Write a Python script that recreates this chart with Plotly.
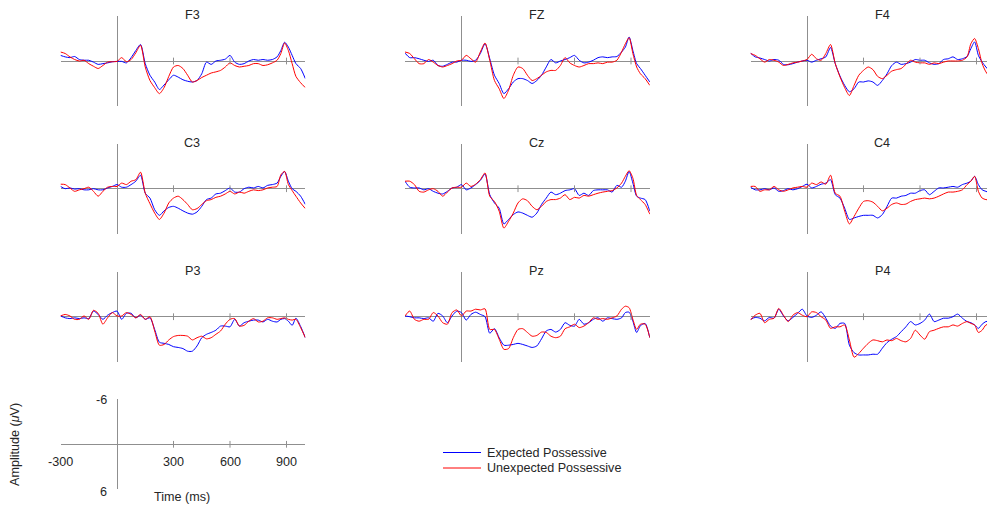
import plotly.graph_objects as go

# ---------------- data (µV, negative plotted up) ----------------
T = [-300, -275, -250, -225, -200, -175, -150, -125, -100, -75, -50, -25,
     0, 25, 50, 75, 100, 125, 150, 175, 200, 225, 250, 275,
     300, 325, 350, 375, 400, 425, 450, 475, 500, 525, 550, 575,
     600, 625, 650, 675, 700, 725, 750, 775, 800, 825, 850,
     870, 890, 910, 930, 950, 975, 1000]

CHANNELS = ["F3", "FZ", "F4", "C3", "Cz", "C4", "P3", "Pz", "P4"]

F3_exp = [-0.75, -0.55, -0.45, -0.6, -0.2, -0.1, -0.1, 0.15, 0.45, 0.35, 0.25, 0.1,
          0.05, 0.05, 0.25, -0.45, -1.4, -2.2, 0.35, 1.9, 2.8, 3.8, 3.2, 2.5,
          1.9, 2.15, 2.5, 2.7, 2.8, 2.6, 1.7, 0.15, 0.45, 0, -0.1, -0.25,
          -0.75, 0.15, 0.45, 0.35, 0, -0.2, -0.1, -0.2, -0.1, -0.2, -0.55,
          -1.4, -2.5, -1.85, -0.75, 0.35, 1.0, 2.35]
F3_unexp = [-1.2, -1.0, -0.55, -0.2, 0, -0.1, 0.35, 0.7, 1.0, 0.6, 0.15, 0.1,
            0.05, -0.45, 0.1, -0.2, -1.1, -2.1, 0.8, 2.6, 3.55, 4.35, 3.55, 2.05,
            0.8, 0.6, 1.0, 1.9, 2.8, 2.6, 2.2, 1.9, 1.6, 1.45, 1.25, 0.8,
            0.25, 0.6, 0.8, 0.7, 0.6, 0.35, 0.35, 0.6, 0.5, 0.25, -0.1,
            -1.0, -2.4, -1.4, 0.35, 2.05, 2.9, 3.55]

FZ_exp = [-1.05, -0.45, -0.45, -0.3, -0.1, 0.05, -0.1, 0.6, 0.7, 0.45, 0.15, 0.15,
          -0.1, -0.1, 0.05, -0.1, -1.0, -2.3, -0.3, 1.9, 3.0, 4.35, 3.7, 2.8,
          2.35, 2.35, 2.6, 3.0, 2.6, 1.9, 0.8, -0.2, 0.25, 0, -0.2, -0.45,
          -0.75, -0.1, 0.25, 0.15, -0.1, -0.45, -0.55, -0.45, -0.55, -0.6, -1.2,
          -1.85, -3.2, -1.4, 0.35, 1.0, 1.9, 2.8]
FZ_unexp = [-1.2, -1.0, -0.3, 0.35, 0.35, -0.2, 0.15, 0.6, 0.8, 0.6, 0.35, 0,
            -0.1, -0.75, -0.3, 0.15, -1.2, -2.4, -0.1, 2.6, 3.7, 5.0, 3.9, 1.9,
            0.8, 1.0, 1.9, 2.6, 2.35, 1.9, 1.45, 1.25, 1.25, 0.6, -0.45, 0.25,
            0.6, 0.8, 0.6, 0.35, 0.35, 0.25, 0.35, 0.15, 0.15, -0.1, -1.2,
            -2.3, -3.1, -1.0, 0.8, 1.7, 2.35, 3.25]

F4_exp = [-1.05, -0.55, -0.4, -0.2, 0, -0.2, -0.1, 0.45, 0.5, 0.35, 0.15, 0,
          -0.1, 0.15, -0.1, -0.3, -0.55, -1.8, 0.35, 2.0, 3.25, 4.1, 3.7, 2.8,
          2.8, 2.65, 2.8, 3.25, 2.6, 1.7, 0.6, 0.15, 0.45, 0.35, 0.15, -0.2,
          -0.1, -0.1, 0.25, 0.45, 0.35, -0.2, -0.3, -0.55, -0.2, -0.3, -0.6,
          -1.65, -2.55, -0.75, 0.15, 0.8, 1.5]
F4_unexp = [-1.0, -0.75, -0.3, 0.15, -0.2, -0.1, 0.15, 0.6, 0.45, 0.25, 0.15, 0,
            -0.2, -0.9, -0.3, -0.1, -1.0, -2.2, 0.35, 2.1, 3.55, 4.6, 3.25, 1.9,
            1.25, 0.8, 1.15, 2.05, 2.35, 1.9, 1.35, 1.15, 1.0, 0.45, -0.1, 0.15,
            0.25, 0.25, 0.45, 0.25, 0.35, 0.15, 0, 0, 0, -0.1, -0.55,
            -2.3, -3.0, -1.65, 0.35, 1.45, 2.3]

C3_exp = [-0.3, 0, -0.1, 0.05, 0, 0.15, 0.15, 0, 0.15, 0.15, -0.1, -0.3,
          -0.55, -0.2, -0.2, -0.55, -1.0, -1.8, 0.6, 1.25, 2.8, 3.55, 2.95, 2.5,
          2.35, 2.6, 2.95, 3.25, 3.4, 3.1, 2.35, 1.45, 1.25, 0.7, 0.6, 0.25,
          -0.1, 0.45, 0.45, 0, -0.2, -0.1, -0.3, -0.1, -0.45, -0.55, -0.75,
          -1.65, -2.3, -1.0, 0, 0.35, 1.0, 2.1]
C3_unexp = [-0.6, -0.55, -0.1, 0.35, 0.15, 0, -0.2, 0.35, 1.0, 0.35, -0.2, -0.3,
            -0.3, -0.75, -0.55, -1.0, -1.2, -2.2, 0.6, 2.0, 3.25, 4.1, 3.25, 1.9,
            1.25, 1.0, 1.45, 2.1, 2.8, 2.65, 2.1, 1.6, 1.45, 1.15, 1.0, 0.7,
            0.35, 0.7, 0.45, 0.6, 0.35, 0.15, 0.25, 0.15, -0.1, -0.2, -0.3,
            -1.85, -2.3, -0.55, 0.25, 1.0, 1.9, 2.65]

Cz_exp = [-1.0, -0.2, -0.1, -0.1, 0.15, 0, 0.35, 0.6, 0.7, 0.35, -0.1, -0.2,
          -0.55, 0.15, -0.1, -0.55, -1.1, -1.95, 0.8, 1.9, 2.6, 4.7, 4.1, 3.45,
          3.1, 3.25, 3.55, 3.8, 3.25, 2.1, 1.25, 0.45, 0.8, 0.6, 0.25, 0.15,
          0, 0.9, 0.6, 0.9, 0.25, 0.15, 0.15, 0.15, 0.45, -0.45, -0.2,
          -1.0, -2.3, -0.75, 1.0, 1.25, 1.45, 3.0]
Cz_unexp = [-1.0, -1.0, -0.55, 0.35, 0.45, 0.15, 0, 0.35, 1.0, 0.45, -0.1, -0.2,
            -0.2, -0.75, -0.3, -0.6, -1.2, -2.1, 1.0, 1.7, 3.0, 5.25, 4.35, 3.25,
            1.9, 1.35, 1.6, 2.35, 2.8, 2.35, 1.7, 1.45, 1.45, 1.25, 0.8, 1.45,
            1.15, 1.25, 0.9, 1.0, 0.8, 0.6, 0.45, 0.35, 0.25, -0.1, -0.75,
            -1.65, -2.4, -1.4, 0.9, 1.45, 2.1, 3.4]

C4_exp = [-0.2, 0.15, 0.15, 0, 0.15, -0.1, 0.35, 0.25, 0, 0.15, 0, -0.3,
          -0.6, -0.1, -0.3, -0.6, -0.75, -1.2, 0.8, 1.25, 2.6, 4.1, 3.9, 3.7,
          3.55, 3.55, 3.55, 3.9, 3.45, 2.35, 1.25, 1.25, 1.0, 0.9, 0.6, 0.6,
          0.25, 0.15, 0.8, 0.35, -0.1, -0.1, -0.2, -0.3, -0.2, -0.55, -0.75,
          -1.0, -1.65, -0.55, 0.15, 0.35, 0.6]
C4_unexp = [-0.3, -0.3, 0.35, 0.15, 0.15, -0.3, 0.15, 0.35, 0.15, -0.1, -0.2, -0.3,
            -0.2, -0.75, -0.55, -0.9, -0.6, -1.8, 0.6, 1.0, 3.0, 4.7, 3.7, 2.6,
            1.7, 1.6, 1.8, 2.35, 2.95, 2.6, 2.1, 1.9, 2.1, 2.05, 1.7, 1.45,
            1.35, 1.25, 1.35, 1.25, 1.0, 0.7, 0.45, 0.45, 0.35, 0.15, -0.55,
            -1.0, -1.65, 0.35, 1.25, 1.45, 1.5]

P3_exp = [-0.1, 0.15, 0.25, 0.15, 0.25, 0.15, 0.25, -0.75, -0.3, 0.35, -0.2, -0.55,
          -0.75, 0.35, -0.45, -0.45, 0.15, -0.2, 0.35, 0.15, 1.7, 3.4, 3.55, 3.7,
          4.0, 4.1, 4.25, 4.6, 4.6, 3.9, 2.8, 2.35, 2.1, 1.8, 1.25, 1.25,
          1.35, 0.35, 1.25, 0.8, 0.6, 0.45, 0.45, 0.7, 0.35, 0.6, 0.7,
          0.35, 0.25, 0.6, 1.15, 0.2, 1.3, 2.8]
P3_unexp = [-0.1, -0.3, -0.1, 0.35, 0.35, -0.1, 0.35, -0.85, -0.45, 1.0, 0.15, -0.55,
            -0.1, -0.1, -0.55, -0.3, 0.15, -0.3, 0.35, 0, 1.9, 3.8, 3.7, 3.1,
            2.65, 2.5, 2.5, 2.6, 3.1, 2.8, 2.6, 2.95, 2.8, 2.35, 1.9, 1.0,
            0.35, 0.25, 1.25, 1.15, 0.6, 0.25, 0.7, 0.6, 0.15, 0.15, 0.35,
            0.25, 0.15, 0.35, 0.45, 0.35, 1.45, 2.8]

Pz_exp = [-0.1, 0, 0.15, 0.15, 0.25, 0.15, 0.6, -0.45, -0.1, 0.8, -0.1, -0.75,
          -0.55, 0.45, -0.3, -0.6, -0.3, 0.0, 2.2, 1.6, 2.8, 3.8, 3.8, 3.7,
          3.55, 3.7, 3.9, 4.1, 3.9, 2.95, 1.9, 1.7, 2.05, 1.7, 0.8, 1.15,
          1.25, 0.35, 1.0, 0.8, 0.35, 0.15, 0.6, 0.15, 0.25, 0.35, 0.15,
          -0.55, -0.6, 0.6, 2.1, 1.2, 0.9, 2.8]
Pz_unexp = [-0.1, -0.75, 0.35, 0.6, 0.35, 0.35, -0.55, -0.1, 0.8, 1.0, -0.55, -0.9,
            -0.1, -0.75, -0.75, -1.0, -0.9, -1.05, 1.7, 1.7, 3.0, 4.35, 4.25, 2.8,
            1.7, 1.6, 2.1, 2.6, 2.5, 2.05, 2.1, 2.6, 2.8, 2.6, 1.6, 1.35,
            1.0, 1.45, 1.25, 0.8, 0.15, 0.35, 0.25, 0.35, 0.15, -0.1, -1.0,
            -1.4, -1.2, 0.35, 1.7, 1.0, 1.0, 2.8]

P4_exp = [0.35, 0.1, 0.2, 0.55, 0.1, 0.2, -1.0, -0.1, 0.55, 0.1, -0.45, -1.0,
          -0.1, 0.1, -0.2, -0.65, 0.2, 1.25, 1.55, 0.9, 0.9, 3.8, 4.8, 5.1,
          5.1, 5.1, 5.0, 5.0, 4.2, 3.45, 3.0, 2.65, 2.0, 1.35, 0.65, 1.1,
          0.9, 0.45, -0.35, 0.65, 0.45, 0.2, 0.2, 0, -0.35, 0.2, 0.65,
          0.8, 1.1, 1.55, 1.0, 0.65, 0.6]
P4_unexp = [0.45, -0.2, -0.45, 0.8, 0.35, 0.2, -1.1, -0.2, 0.65, -0.2, -0.55, -0.2,
            0, -0.65, -0.55, 0, 0.45, 1.55, 1.35, 1.35, 1.1, 3.1, 5.4, 4.9,
            4.2, 3.55, 3.1, 3.2, 3.35, 3.1, 3.2, 2.9, 3.2, 3.35, 2.9, 1.8,
            2.45, 3.0, 2.0, 1.8, 1.55, 1.35, 1.35, 1.1, 1.25, 0.9, 0.65,
            0.9, 1.1, 2.1, 1.8, 1.1, 1.0]

EXPECTED = [F3_exp, FZ_exp, F4_exp, C3_exp, Cz_exp, C4_exp, P3_exp, Pz_exp, P4_exp]
UNEXPECTED = [F3_unexp, FZ_unexp, F4_unexp, C3_unexp, Cz_unexp, C4_unexp, P3_unexp, Pz_unexp, P4_unexp]

SERIES_NAMES = ["Expected Possessive", "Unexpected Possessive"]
SERIES_COLORS = ["#0000ff", "#ff0000"]

X_TICKS = [300, 600, 900]
X_TICK_LABELS = ["-300", "300", "600", "900"]
X_TICK_LABEL_VALUES = [-300, 300, 600, 900]
Y_TICK_LABELS = ["-6", "6"]
Y_LIMIT = 6

# ---------------- layout geometry (pixels) ----------------
W, H = 987, 510
PX_PER_MS = 56.5 / 300.0
COL_ZERO_PX = [117.0, 461.5, 807.0]
ROW_BASE_PX = [61.0, 188.7, 316.7, 444.3]
HALF_PX = 45.0
AX_GRAY = "#8f8f8f"
TXT = "#262626"
FONT = "Liberation Sans, Arial, sans-serif"
FS = 12.6


def px(xp):
    return xp / W


def py(yp):
    return 1 - yp / H


fig = go.Figure()
layout = {}
shapes = []
annotations = []


def add_axes(idx, col, row):
    x0 = COL_ZERO_PX[col]
    left_px = x0 - 300 * PX_PER_MS
    right_px = min(W, x0 + 1000 * PX_PER_MS)
    xmax = (right_px - x0) / PX_PER_MS
    base = ROW_BASE_PX[row]
    suffix = "" if idx == 1 else str(idx)
    layout["xaxis" + suffix] = dict(
        domain=[px(left_px), px(right_px)], range=[-300, xmax],
        showgrid=False, showticklabels=False, ticks="", showline=False,
        zeroline=True, zerolinecolor=AX_GRAY, zerolinewidth=1,
        anchor="y" + suffix, fixedrange=True)
    layout["yaxis" + suffix] = dict(
        domain=[py(base + HALF_PX), py(base - HALF_PX)],
        range=[Y_LIMIT, -Y_LIMIT],
        showgrid=False, showticklabels=False, ticks="", showline=False,
        zeroline=True, zerolinecolor=AX_GRAY, zerolinewidth=1,
        anchor="x" + suffix, fixedrange=True)
    for tv in X_TICKS:
        if tv <= xmax:
            shapes.append(dict(type="line", xref="x" + suffix, yref="y" + suffix,
                               x0=tv, x1=tv, y0=-0.45, y1=0.45,
                               line=dict(color=AX_GRAY, width=1)))
    return suffix


def text(t, xp, yp, xanchor="center", angle=0):
    annotations.append(dict(text=t, x=px(xp), y=py(yp), xref="paper", yref="paper",
                            showarrow=False, xanchor=xanchor, yanchor="middle",
                            textangle=angle,
                            font=dict(size=FS, color=TXT, family=FONT)))


for i, ch in enumerate(CHANNELS):
    col, row = i % 3, i // 3
    suffix = add_axes(i + 1, col, row)
    for s, series in enumerate([EXPECTED[i], UNEXPECTED[i]]):
        fig.add_trace(go.Scatter(
            x=T[:len(series)], y=series, mode="lines",
            name=SERIES_NAMES[s], showlegend=False,
            line=dict(color=SERIES_COLORS[s], width=1, shape="spline", smoothing=0.7),
            xaxis="x" + suffix, yaxis="y" + suffix))
    text(ch, COL_ZERO_PX[col] + 400 * PX_PER_MS, ROW_BASE_PX[row] - HALF_PX - 1)

# key / scale panel
add_axes(10, 0, 3)
kx0, kb = COL_ZERO_PX[0], ROW_BASE_PX[3]
for v, lab in zip(X_TICK_LABEL_VALUES, X_TICK_LABELS):
    text(lab, kx0 + v * PX_PER_MS, kb + 17.5)
text(Y_TICK_LABELS[0], kx0 - 8, kb - HALF_PX + 0.5, xanchor="right")
text(Y_TICK_LABELS[1], kx0 - 8, kb + HALF_PX + 3, xanchor="right")
text("Time (ms)", 182, 497)
text("Amplitude (<i>μ</i>V)", 15, 445, angle=-90)

# legend drawn as line samples + labels
for s, name in enumerate(SERIES_NAMES):
    ly = 452.5 + 15.5 * s
    shapes.append(dict(type="line", xref="paper", yref="paper",
                       x0=px(443), x1=px(481), y0=py(ly), y1=py(ly),
                       line=dict(color=SERIES_COLORS[s], width=1)))
    text(name, 485, ly, xanchor="left")

fig.update_layout(
    width=W, height=H, margin=dict(l=0, r=0, t=0, b=0),
    paper_bgcolor="white", plot_bgcolor="white",
    showlegend=False,
    shapes=shapes, annotations=annotations, **layout)

fig.write_html("out.html", config={"displayModeBar": False},
               post_script="document.body.style.margin='0';")
